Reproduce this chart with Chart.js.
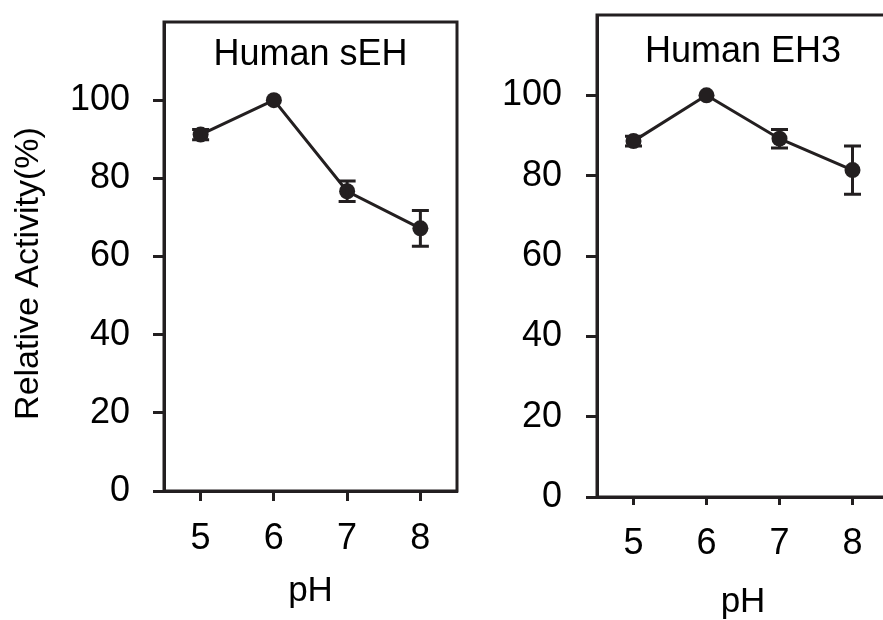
<!DOCTYPE html>
<html>
<head>
<meta charset="utf-8">
<title>Relative activity vs pH</title>
<script src="https://cdn.jsdelivr.net/npm/chart.js@4"></script>
<style>
    html, body { margin: 0; padding: 0; background: #fff; overflow: hidden; }
    #wrap { position: relative; width: 883px; height: 620px; overflow: hidden; }
    #sehChart { position: absolute; left: 0; top: 0; }
    #eh3Chart { position: absolute; left: 470px; top: 0; }
</style>
</head>
<body>
<div id="wrap">
    <canvas id="sehChart" width="470" height="620"></canvas>
    <canvas id="eh3Chart" width="430" height="620"></canvas>
</div>
<script>
// data
const phLabels = ['5', '6', '7', '8'];
const yTickValues = [0, 20, 40, 60, 80, 100];

const sehValues = [91.2, 100, 76.7, 67.2];
const sehErrors = [1.3, 0, 2.6, 4.6];

const eh3Values = [88.6, 100, 89.2, 81.4];
const eh3Errors = [1.2, 0, 2.3, 6.0];

const FONT = "'Liberation Sans', Arial, sans-serif";
const INK = '#231f20';

// error bars + frame + in-panel title
const panelExtras = {
    id: 'panelExtras',
    afterDatasetsDraw(chart, args, opts) {
        const ctx = chart.ctx;
        const xs = chart.scales.x;
        const ys = chart.scales.y;
        const area = chart.chartArea;

        ctx.save();
        ctx.strokeStyle = INK;
        ctx.lineWidth = 3;
        chart.data.datasets.forEach(ds => {
            (ds.errors || []).forEach((err, i) => {
                if (!err) return;
                const x = xs.getPixelForValue(i);
                const yHi = ys.getPixelForValue(ds.data[i] + err);
                const yLo = ys.getPixelForValue(ds.data[i] - err);
                ctx.beginPath();
                ctx.moveTo(x, yHi); ctx.lineTo(x, yLo);
                ctx.moveTo(x - 8.5, yHi); ctx.lineTo(x + 8.5, yHi);
                ctx.moveTo(x - 8.5, yLo); ctx.lineTo(x + 8.5, yLo);
                ctx.stroke();
            });
        });

        // box round the plot
        ctx.lineWidth = 3;
        ctx.strokeRect(area.left, area.top, area.right - area.left, area.bottom - area.top);

        ctx.fillStyle = '#000';
        ctx.font = '36px ' + FONT;
        ctx.textAlign = 'center';
        ctx.textBaseline = 'alphabetic';
        ctx.fillText(opts.title, (area.left + area.right) / 2, area.top + opts.titleOffset);

        if (opts.yTitle) {
            ctx.translate(29, (area.top + area.bottom) / 2 + 17);
            ctx.rotate(-Math.PI / 2);
            ctx.font = '34px ' + FONT;
            ctx.textBaseline = 'middle';
            ctx.fillText(opts.yTitle, 0, 0);
        }
        ctx.restore();
    }
};

// keep the plot box where it is, whatever the label sizes
function noScalePadding(s) {
    s.paddingTop = 0;
    s.paddingBottom = 0;
    s.paddingLeft = 0;
    s.paddingRight = 0;
}

function makePanel(canvasId, values, errors, cfg) {
    const ctx = document.getElementById(canvasId).getContext('2d');
    return new Chart(ctx, {
        type: 'line',
        data: {
            labels: phLabels,
            datasets: [{
                data: values,
                errors: errors,
                borderColor: INK,
                borderWidth: 3,
                pointRadius: 8,
                pointHoverRadius: 8,
                pointBackgroundColor: INK,
                pointBorderWidth: 0,
                tension: 0
            }]
        },
        options: {
            responsive: false,
            animation: false,
            events: [],
            layout: { padding: { top: cfg.top, right: cfg.right, left: 0, bottom: 0 } },
            plugins: {
                legend: { display: false },
                tooltip: { enabled: false },
                panelExtras: { title: cfg.title, titleOffset: cfg.titleOffset, yTitle: cfg.yTitle }
            },
            scales: {
                x: {
                    type: 'category',
                    offset: true,
                    grid: { drawOnChartArea: false, offset: false, tickLength: cfg.xTick, tickWidth: 3, tickColor: INK },
                    border: { color: INK, width: 3 },
                    ticks: { color: '#000', padding: cfg.xPad, font: { family: FONT, size: 36 } },
                    title: {
                        display: true,
                        text: 'pH',
                        color: '#000',
                        font: { family: FONT, size: 35, lineHeight: 1 },
                        padding: { top: 0, bottom: cfg.phPad }
                    },
                    afterFit: s => { s.height = cfg.xHeight; noScalePadding(s); }
                },
                y: {
                    min: 0,
                    max: 120,
                    grid: { drawOnChartArea: false, tickLength: 11, tickWidth: 3, tickColor: INK },
                    border: { color: INK, width: 3 },
                    ticks: { color: '#000', padding: cfg.yPad, font: { family: FONT, size: 36 } },
                    afterBuildTicks: s => { s.ticks = yTickValues.map(v => ({ value: v })); },
                    afterFit: s => { s.width = cfg.yWidth; noScalePadding(s); }
                }
            }
        },
        plugins: [panelExtras]
    });
}

makePanel('sehChart', sehValues, sehErrors, {
    title: 'Human sEH', titleOffset: 43, yTitle: 'Relative Activity(%)',
    top: 22, right: 13, yWidth: 164, xHeight: 129,
    xTick: 10, xPad: 16, yPad: 23, phPad: 11
});

makePanel('eh3Chart', eh3Values, eh3Errors, {
    title: 'Human EH3', titleOffset: 47, yTitle: null,
    top: 15, right: 11, yWidth: 127, xHeight: 123,
    xTick: 8, xPad: 17, yPad: 24, phPad: 0
});
</script>
</body>
</html>
